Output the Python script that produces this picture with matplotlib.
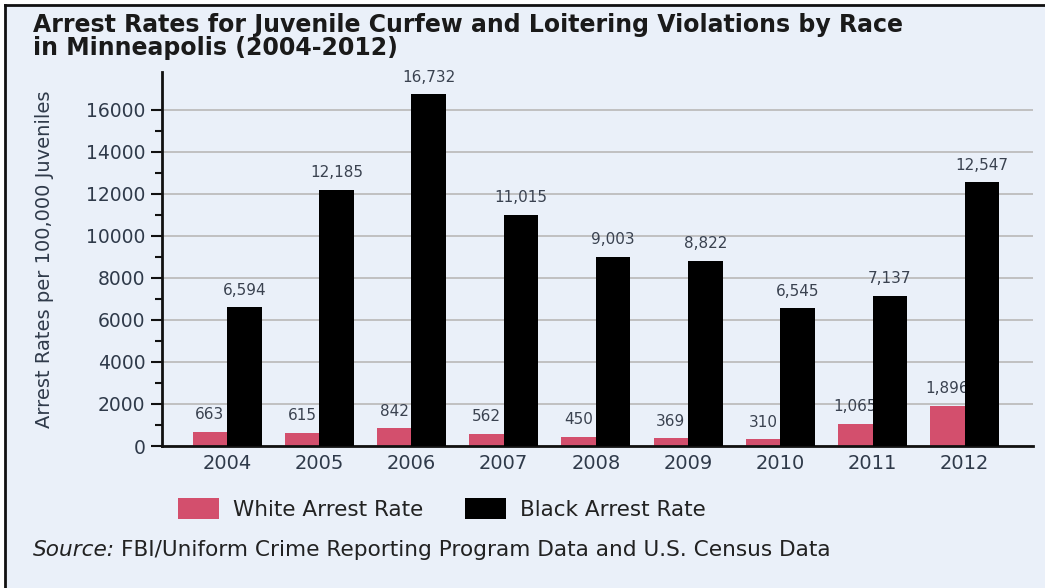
import matplotlib
matplotlib.use("Agg")
import matplotlib.pyplot as plt
import numpy as np
from matplotlib.patches import Patch
from matplotlib.lines import Line2D

years = ["2004", "2005", "2006", "2007", "2008", "2009", "2010", "2011", "2012"]
white_rate = [663, 615, 842, 562, 450, 369, 310, 1065, 1896]
black_rate = [6594, 12185, 16732, 11015, 9003, 8822, 6545, 7137, 12547]
yticks = [0, 2000, 4000, 6000, 8000, 10000, 12000, 14000, 16000]

BG = "#EAF0F9"
PINK = "#D34F6D"
TXT = "#2F3A4A"

W, H = 1045, 588
fig = plt.figure(figsize=(W / 100, H / 100), dpi=100, facecolor="white")

# background panel with black frame (top and left edges visible)
fig.patches.append(matplotlib.patches.Rectangle((5 / W, 0), 1, 1 - 5 / H, transform=fig.transFigure,
                                                facecolor=BG, edgecolor="none", zorder=-10))
fig.add_artist(Line2D([5 / W, 1], [1 - 5 / H, 1 - 5 / H], transform=fig.transFigure, color="#111111", lw=2))
fig.add_artist(Line2D([5 / W, 5 / W], [0, 1 - 5 / H], transform=fig.transFigure, color="#111111", lw=2))

ax = fig.add_axes([162 / W, 1 - 446 / H, (1033 - 162) / W, (446 - 72) / H])
ax.set_facecolor(BG)

x = np.arange(len(years))
bw = 0.374
ax.bar(x - bw / 2, white_rate, bw, color=PINK, zorder=2)
ax.bar(x + bw / 2, black_rate, bw, color="black", zorder=3)

for xi, v in zip(x, white_rate):
    ax.annotate(f"{v:,}", (xi - bw / 2, v), xytext=(0, 7), textcoords="offset points",
                ha="center", va="bottom", fontsize=11, color="#3A4250", zorder=2.5)
for xi, v in zip(x, black_rate):
    ax.annotate(f"{v:,}", (xi + bw / 2, v), xytext=(0, 7), textcoords="offset points",
                ha="center", va="bottom", fontsize=11, color="#3A4250", zorder=4)

ax.set_xlim(-0.705, 8.74)
ax.set_ylim(0, 17800)
ax.set_yticks(yticks)
ax.set_yticks(np.arange(1000, 17000, 2000), minor=True)
ax.set_xticks(x)
ax.set_xticklabels(years)
ax.tick_params(axis="y", which="major", length=8, width=1.5, color="#111111", labelsize=13.5,
               labelcolor=TXT, pad=4)
ax.tick_params(axis="y", which="minor", length=5, width=1.5, color="#111111")
ax.tick_params(axis="x", length=0, labelsize=14, labelcolor=TXT, pad=6)
ax.grid(axis="y", which="major", color="#BDBDBD", lw=1.3, zorder=0)
ax.set_axisbelow(True)
for s in ["top", "right"]:
    ax.spines[s].set_visible(False)
for s in ["left", "bottom"]:
    ax.spines[s].set_linewidth(2)
    ax.spines[s].set_color("#111111")

fig.text(45 / W, 1 - 259 / H, "Arrest Rates per 100,000 Juveniles", rotation=90, ha="center",
         va="center", fontsize=14, color=TXT)

fig.text(33 / W, 1 - 13 / H, "Arrest Rates for Juvenile Curfew and Loitering Violations by Race\nin Minneapolis (2004-2012)",
         ha="left", va="top", fontsize=17, fontweight="bold", color="#1A1A1A", linespacing=0.95)

handles = [Patch(facecolor=PINK, edgecolor="none", label="White Arrest Rate"),
           Patch(facecolor="black", edgecolor="none", label="Black Arrest Rate")]
fig.legend(handles=handles, loc="center left", bbox_to_anchor=(178 / W, 1 - 509 / H), ncol=2,
           frameon=False, fontsize=15.5, handlelength=1.9, handleheight=1.1, handletextpad=0.65,
           columnspacing=1.95, borderpad=0, borderaxespad=0, labelcolor="#222222")

t1 = fig.text(33 / W, 1 - 550 / H, "Source:", style="italic", ha="left", va="center", fontsize=15.6, color="#222222")
fig.canvas.draw()
bb = t1.get_window_extent(renderer=fig.canvas.get_renderer())
fig.text((bb.x1 + 6) / W, 1 - 550 / H, "FBI/Uniform Crime Reporting Program Data and U.S. Census Data",
         ha="left", va="center", fontsize=15.6, color="#222222")

fig.savefig("out.png", dpi=100, facecolor="white")
